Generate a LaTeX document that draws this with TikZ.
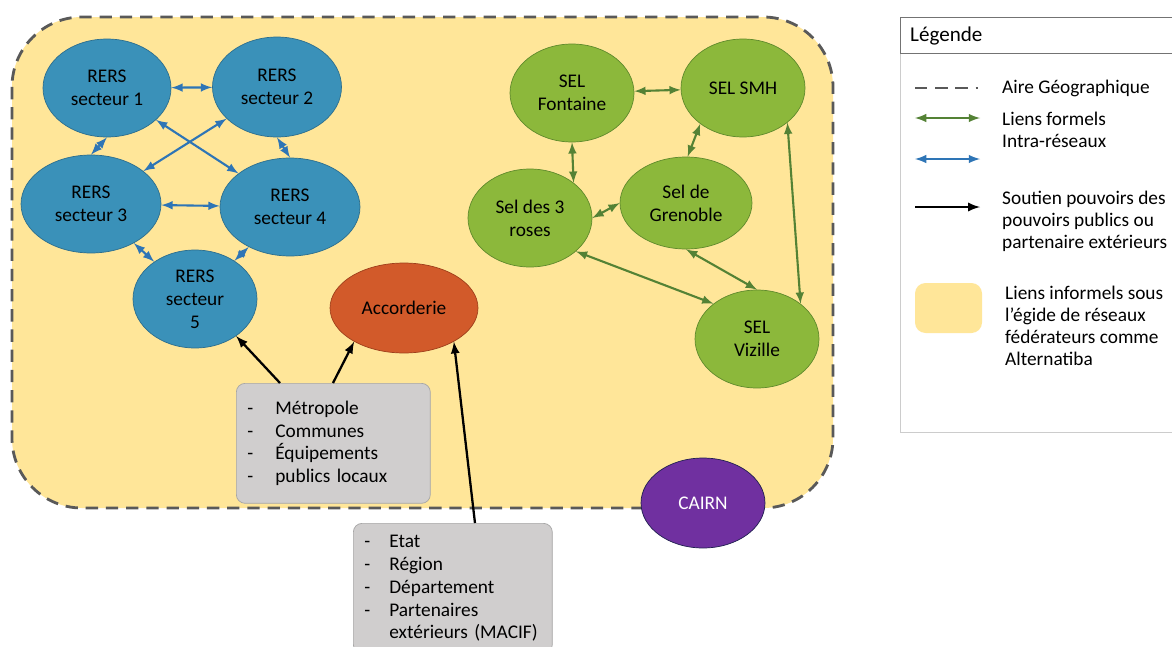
\documentclass[tikz,border=0pt]{standalone}
\usepackage{fontspec}
\setmainfont{Carlito}
\usetikzlibrary{shapes.geometric}

\definecolor{airefill}{HTML}{FFE699}
\definecolor{aireline}{HTML}{595959}
\definecolor{rersfill}{HTML}{3A91B9}
\definecolor{rersline}{HTML}{2C6E8E}
\definecolor{rersarrow}{HTML}{2E75B6}
\definecolor{selfill}{HTML}{8CB83B}
\definecolor{selline}{HTML}{5F8A2C}
\definecolor{selarrow}{HTML}{548235}
\definecolor{accfill}{HTML}{D25A2A}
\definecolor{accline}{HTML}{9E3F1B}
\definecolor{cairnfill}{HTML}{7030A0}
\definecolor{cairnline}{HTML}{202050}
\definecolor{boxgray}{HTML}{D0CECE}

\begin{document}
\begin{tikzpicture}[x=0.02cm, y=-0.02cm, >=latex,
    every node/.style={font=\fontsize{11}{13}\selectfont},
    airedash/.style={draw=aireline, line width=1.6pt, dash pattern=on 7pt off 4.5pt},
    rers/.style={ellipse, draw=rersline, fill=rersfill, align=center, inner sep=0pt},
    sel/.style={ellipse, draw=selline, fill=selfill, align=center, inner sep=0pt},
    blink/.style={<->, draw=rersarrow, line width=1.2pt},
    glink/.style={<->, draw=selarrow, line width=1.2pt},
    soutien/.style={->, line width=1.3pt},
    lstbox/.style={draw=gray!70, fill=boxgray, rounded corners=5pt, anchor=north west,
                   align=left, inner xsep=0.22cm},
    legtext/.style={anchor=west, align=left, font=\fontsize{11}{12.5}\selectfont}]

    \clip (0,0) rectangle (1172,646);
    \fill[white] (0,0) rectangle (1172,646);

    % Draw geographic area
    \draw[airedash, fill=airefill, rounded corners=1.4cm] (12,17) rectangle (833,508);

    % RERS network
    \node[rers, minimum width=2.56cm, minimum height=1.96cm] (r1) at (107,88) {RERS\\secteur 1};
    \node[rers, minimum width=2.58cm, minimum height=2cm] (r2) at (277,87) {RERS\\secteur 2};
    \node[rers, minimum width=2.8cm, minimum height=1.96cm] (r3) at (91,204) {RERS\\secteur 3};
    \node[rers, minimum width=2.8cm, minimum height=1.96cm] (r4) at (290,207) {RERS\\secteur 4};
    \node[rers, minimum width=2.48cm, minimum height=1.96cm] (r5) at (195,299) {RERS\\secteur\\5};

    \draw[blink] (r1) -- (r2);
    \draw[blink] (r1.south) -- (r3.north);
    \draw[blink] (r1) -- (r4);
    \draw[blink] (r2) -- (r3);
    \draw[blink] (r2.south) -- (r4.north);
    \draw[blink] (r3) -- (r4);
    \draw[blink] (r3) -- (r5);
    \draw[blink] (r4) -- (r5);

    % Accorderie
    \node[ellipse, draw=accline, fill=accfill, minimum width=2.96cm, minimum height=1.8cm,
          inner sep=0pt] (acc) at (404,308) {Accorderie};

    % SEL network
    \node[sel, minimum width=2.48cm, minimum height=1.96cm] (font) at (572,93) {SEL\\Fontaine};
    \node[sel, minimum width=2.48cm, minimum height=1.96cm] (smh) at (743,88) {SEL SMH};
    \node[sel, minimum width=2.48cm, minimum height=1.96cm] (roses) at (530,218) {Sel des 3\\roses};
    \node[sel, minimum width=2.64cm, minimum height=1.84cm] (gren) at (686,203) {Sel de\\Grenoble};
    \node[sel, minimum width=2.48cm, minimum height=1.96cm] (viz) at (757,339) {SEL\\Vizille};

    \draw[glink] (font) -- (smh);
    \draw[glink] (font.south) -- (roses.39);
    \draw[glink] (smh.220) -- (gren.88);
    \draw[glink] (smh.322) -- (viz.39);
    \draw[glink] (roses.east) -- (gren.west);
    \draw[glink] (roses.324) -- (viz.141);
    \draw[glink] (gren.south) -- (viz.north);

    % CAIRN
    \node[ellipse, draw=cairnline, fill=cairnfill, text=white, minimum width=2.48cm,
          minimum height=1.8cm, inner sep=0pt] (cairn) at (703,503) {CAIRN};

    % Public support boxes
    \node[lstbox, text width=3.44cm, minimum height=2.4cm] (local) at (236,383)
        {\makebox[0.56cm][l]{-}Métropole\\\makebox[0.56cm][l]{-}Communes\\
         \makebox[0.56cm][l]{-}Équipements\\\makebox[0.56cm][l]{-}publics locaux};
    \node[lstbox, text width=3.54cm, minimum height=2.6cm] (ext) at (353,523)
        {\makebox[0.5cm][l]{-}Etat\\\makebox[0.5cm][l]{-}Région\\
         \makebox[0.5cm][l]{-}Département\\\makebox[0.5cm][l]{-}Partenaires\\
         \makebox[0.5cm][l]{}extérieurs (MACIF)};

    \draw[soutien] ([xshift=0.88cm]local.north west) -- (r5.318);
    \draw[soutien] ([xshift=1.94cm]local.north west) -- (acc.214);
    \draw[soutien] ([xshift=2.44cm]ext.north west) -- (acc.326);

    % Draw legend
    \draw[gray!40] (900,17) rectangle (1180,432);
    \draw[gray!90!black] (900,17) rectangle (1180,53);
    \node[anchor=west, font=\fontsize{12}{14}\selectfont] (legtitle) at (904,36) {Légende};

    \coordinate (la1) at (915,88);   \coordinate (lb1) at (978,88);
    \coordinate (la2) at (915,118);  \coordinate (lb2) at (980,118);
    \coordinate (la3) at (915,159);  \coordinate (lb3) at (980,159);
    \coordinate (la4) at (915,207);  \coordinate (lb4) at (980,207);
    \draw[airedash] (la1) -- (lb1);
    \draw[glink] (la2) -- (lb2);
    \draw[blink] (la3) -- (lb3);
    \draw[soutien] (la4) -- (lb4);
    \fill[airefill, rounded corners=6pt] (915,283) rectangle (982,333);

    \node[legtext] (leg1) at (996,88) {Aire Géographique};
    \node[legtext] (leg2) at (996,130) {Liens formels\\Intra-réseaux};
    \node[legtext] (leg3) at (996,221) {Soutien pouvoirs des\\pouvoirs publics ou\\partenaire extérieurs};
    \node[legtext] (leg4) at (999,326) {Liens informels sous\\l’égide de réseaux\\fédérateurs comme\\Alternatiba};
\end{tikzpicture}
\end{document}
